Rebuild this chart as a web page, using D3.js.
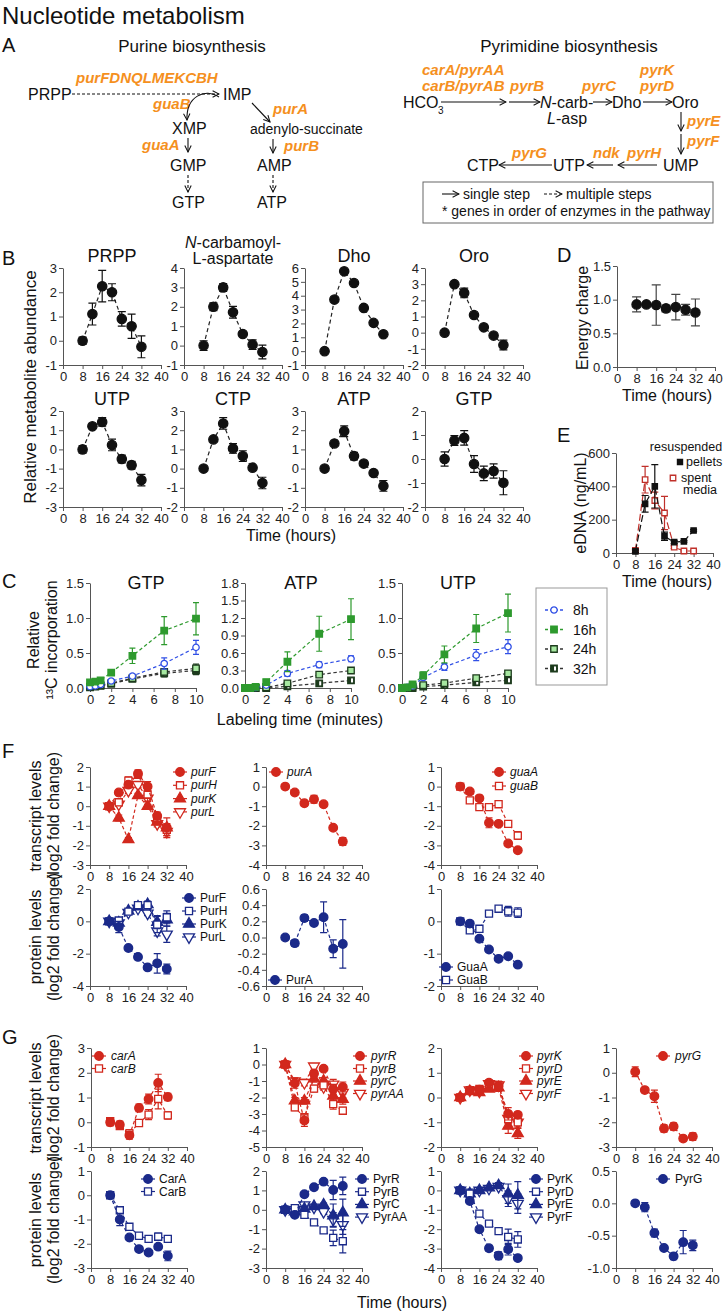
<!DOCTYPE html>
<html><head><meta charset="utf-8">
<script src="https://cdn.jsdelivr.net/npm/d3@7"></script>
<style>
body{margin:0;background:#fff;}
svg{display:block;font-family:"Liberation Sans",Arial,Helvetica,sans-serif;}
</style></head><body>
<svg id="chart" width="724" height="1313"></svg>
<script>
// ---------------- DATA ----------------
const hours = [8, 12, 16, 20, 24, 28, 32];
const hourTicks = [0, 8, 16, 24, 32, 40];
const labelMinutes = [0, 0.5, 1, 2, 4, 7, 10];
const minuteTicks = [0, 2, 4, 6, 8, 10];

// Panel B: relative metabolite abundance
const metaboliteTitles = ["PRPP", "N-carbamoyl-L-aspartate", "Dho", "Oro", "UTP", "CTP", "ATP", "GTP"];
const metPRPP = [0, 1.1, 2.25, 2.0, 0.9, 0.6, -0.25];
const metPRPPErr = [0.15, 0.45, 0.65, 0.35, 0.3, 0.5, 0.45];
const metNCA = [0, 2.0, 3.0, 1.72, 0.6, 0.05, -0.33];
const metNCAErr = [0.25, 0.2, 0.2, 0.3, 0.1, 0.25, 0.35];
const metDho = [0, 3.72, 5.76, 4.92, 3.12, 2.04, 1.22];
const metDhoErr = [0, 0, 0, 0, 0, 0, 0];
const metOro = [0, 3.0, 2.46, 1.09, 0.33, -0.18, -0.76];
const metOroErr = [0, 0, 0.3, 0, 0, 0, 0.3];
const metUTP = [0, 1.2, 1.43, 0.23, -0.5, -0.82, -1.6];
const metUTPErr = [0.2, 0.1, 0.22, 0.3, 0.2, 0.2, 0.3];
const metCTP = [0, 1.52, 2.35, 1.05, 0.65, 0.05, -0.75];
const metCTPErr = [0, 0, 0.3, 0.25, 0.28, 0, 0.3];
const metATP = [0, 1.31, 1.95, 0.65, 0.26, -0.23, -0.9];
const metATPErr = [0, 0, 0.28, 0.2, 0, 0, 0.28];
const metGTP = [0, 0.77, 0.88, -0.21, -0.6, -0.5, -0.99];
const metGTPErr = [0.3, 0.2, 0.3, 0.35, 0.3, 0.3, 0.5];
const ticksPRPP = [-1, 0, 1, 2, 3];
const ticksNCA = [-1, 0, 1, 2, 3, 4];
const ticksDho = [-1, 0, 1, 2, 3, 4, 5, 6];
const ticksOro = [-2, -1, 0, 1, 2, 3, 4];
const ticksUTP = [-3, -2, -1, 0, 1, 2];
const ticksCTP = [-2, -1, 0, 1, 2, 3];
const ticksATP = [-2, -1, 0, 1, 2, 3];
const ticksGTP = [-2, -1, 0, 1, 2];

// Panel D: energy charge
const energyCharge = [0.93, 0.93, 0.92, 0.87, 0.89, 0.85, 0.81];
const energyChargeErr = [0.11, 0.02, 0.3, 0.05, 0.19, 0.08, 0.2];
const energyTicks = [0, 0.5, 1.0, 1.5];

// Panel E: eDNA (ng/mL)
const eDNAPellets = [10, 295, 400, 100, 65, 70, 135];
const eDNAPelletsErr = [8, 50, 130, 25, 8, 5, 5];
const eDNASpent = [15, 440, 315, 240, 35, 12, 12];
const eDNASpentErr = [10, 80, 50, 100, 8, 5, 5];
const eDNATicks = [0, 200, 400, 600];

// Panel C: relative 13C incorporation
const cultureAges = ["8h", "16h", "24h", "32h"];
const gtp8h = [0.02, 0.03, 0.05, 0.10, 0.17, 0.35, 0.58];
const gtp8hErr = [0.01, 0.01, 0.01, 0.02, 0.03, 0.08, 0.1];
const gtp16h = [0.08, 0.09, 0.11, 0.22, 0.46, 0.82, 0.99];
const gtp16hErr = [0.02, 0.02, 0.02, 0.04, 0.11, 0.2, 0.23];
const gtp24h = [0.02, 0.03, 0.04, 0.07, 0.14, 0.23, 0.28];
const gtp24hErr = [0.01, 0.01, 0.01, 0.01, 0.02, 0.04, 0.06];
const gtp32h = [0.01, 0.02, 0.03, 0.06, 0.13, 0.21, 0.25];
const gtp32hErr = [0.01, 0.01, 0.01, 0.01, 0.02, 0.05, 0.06];
const atp8h = [0, 0, 0.01, 0.05, 0.25, 0.40, 0.50];
const atp8hErr = [0, 0, 0.01, 0.02, 0.05, 0.05, 0.05];
const atp16h = [0, 0, 0.02, 0.10, 0.45, 0.93, 1.18];
const atp16hErr = [0, 0, 0.01, 0.05, 0.17, 0.3, 0.35];
const atp24h = [0, 0, 0, 0.01, 0.08, 0.23, 0.30];
const atp24hErr = [0, 0, 0, 0.01, 0.02, 0.03, 0.04];
const atp32h = [0, 0, 0, 0, 0.03, 0.08, 0.13];
const atp32hErr = [0, 0, 0, 0, 0.01, 0.02, 0.02];
const utp8h = [0, 0.01, 0.03, 0.15, 0.30, 0.47, 0.59];
const utp8hErr = [0, 0, 0.01, 0.03, 0.05, 0.08, 0.1];
const utp16h = [0, 0.01, 0.05, 0.18, 0.48, 0.85, 1.07];
const utp16hErr = [0, 0.01, 0.02, 0.05, 0.12, 0.2, 0.27];
const utp24h = [0, 0, 0.02, 0.04, 0.07, 0.14, 0.21];
const utp24hErr = [0, 0, 0.01, 0.01, 0.02, 0.02, 0.03];
const utp32h = [0, 0, 0, 0.02, 0.04, 0.08, 0.11];
const utp32hErr = [0, 0, 0, 0.01, 0.01, 0.02, 0.02];
const ticksC_GTP = [0, 0.5, 1.0, 1.5];
const ticksC_ATP = [0, 0.3, 0.6, 0.9, 1.2, 1.5, 1.8];
const ticksC_UTP = [0, 0.5, 1.0, 1.5];

// Panel F: purine genes (log2 fold change)
const purF = [0, 0.7, 1.1, 1.65, 1.0, -0.5, -1.1];
const purFErr = [0.1, 0.15, 0.15, 0.2, 0.25, 0.2, 0.5];
const purH = [0, 0.2, 1.3, 1.6, 0.6, -0.6, -1.2];
const purHErr = [0.1, 0.15, 0.2, 0.15, 0.2, 0.2, 0.3];
const purK = [0, -0.6, -1.7, 0.55, 0.0, -0.8, -1.1];
const purKErr = [0.05, 0.15, 0.1, 0.1, 0.1, 0.15, 0.2];
const purL = [0, 0.1, 0.8, 1.1, 0.4, -0.9, -1.3];
const purLErr = [0.05, 0.1, 0.15, 0.15, 0.15, 0.15, 0.2];
const purA = [0, -0.3, -0.85, -0.65, -0.9, -2.1, -2.8];
const purAErr = [0.05, 0.1, 0.15, 0.2, 0.1, 0.1, 0.2];
const guaA = [0, -0.25, -0.6, -1.85, -1.9, -2.9, -3.25];
const guaAErr = [0.05, 0.1, 0.15, 0.25, 0.1, 0.1, 0.1];
const guaB = [0, -0.7, -1.05, -1.05, -0.9, -1.9, -2.5];
const guaBErr = [0.05, 0.1, 0.1, 0.15, 0.15, 0.15, 0.2];
const protPurF = [0, -0.35, -1.65, -2.2, -2.85, -2.6, -2.95];
const protPurFErr = [0.05, 0.35, 0.1, 0.1, 0.15, 0.6, 0.3];
const protPurH = [0, 0.05, 0.6, 1.0, 1.0, -0.2, 0.25];
const protPurHErr = [0.05, 0.1, 0.1, 0.15, 0.25, 0.5, 0.4];
const protPurK = [0, -0.1, 0.65, 0.9, 1.05, -0.05, 0.1];
const protPurKErr = [0.05, 0.1, 0.1, 0.1, 0.1, 0.4, 0.4];
const protPurL = [0, -0.1, 0.55, 0.8, 0.5, -0.6, -0.8];
const protPurLErr = [0.05, 0.1, 0.1, 0.1, 0.15, 0.3, 0.5];
const protPurA = [0, -0.07, 0.24, 0.18, 0.25, -0.14, -0.08];
const protPurAErr = [0.01, 0.04, 0.04, 0.01, 0.19, 0.11, 0.3];
const protGuaA = [0, -0.07, -0.54, -0.87, -1.16, -1.08, -1.34];
const protGuaAErr = [0.03, 0.04, 0.05, 0.05, 0.05, 0.05, 0.05];
const protGuaB = [0, -0.28, -0.23, 0.24, 0.39, 0.31, 0.27];
const protGuaBErr = [0.03, 0.08, 0.08, 0.05, 0.05, 0.15, 0.15];

// Panel G: pyrimidine genes (log2 fold change)
const carA = [0, -0.1, -0.53, 0.58, 0.94, 1.59, 1.02];
const carAErr = [0.15, 0.15, 0.15, 0.15, 0.2, 0.35, 0.15];
const carB = [0.04, -0.15, -0.45, -0.03, 0.31, 0.94, 0.28];
const carBErr = [0.1, 0.1, 0.15, 0.1, 0.2, 0.4, 0.15];
const pyrR = [0, -1.14, -3.4, -0.54, -0.26, -1.5, -1.36];
const pyrRErr = [0.1, 0.3, 0.35, 0.2, 0.15, 0.3, 0.3];
const pyrB = [0, -2.6, -3.2, -1.46, -1.26, -2.4, -2.8];
const pyrBErr = [0.1, 0.2, 0.2, 0.2, 0.2, 0.3, 0.2];
const pyrC = [0, -2.2, -2.2, -0.86, -1.0, -1.9, -2.1];
const pyrCErr = [0.1, 0.2, 0.2, 0.2, 0.2, 0.3, 0.3];
const pyrAA = [0, -1.0, -1.1, -0.1, -1.36, -1.2, -1.7];
const pyrAAErr = [0.1, 0.2, 0.2, 0.1, 0.2, 0.3, 0.3];
const pyrK = [0, 0.28, 0.32, 0.6, 0.46, -0.66, -0.7];
const pyrKErr = [0.05, 0.1, 0.1, 0.1, 0.1, 0.25, 0.1];
const pyrD = [0, 0.3, 0.35, 0.55, 0.5, -0.87, -1.0];
const pyrDErr = [0.05, 0.1, 0.1, 0.1, 0.15, 0.2, 0.2];
const pyrE = [0, 0.25, 0.2, 0.35, 0.4, -1.15, -1.45];
const pyrEErr = [0.05, 0.1, 0.1, 0.1, 0.15, 0.3, 0.2];
const pyrF = [0, 0.3, 0.25, 0.55, 0.5, -0.85, -1.0];
const pyrFErr = [0.05, 0.1, 0.1, 0.1, 0.15, 0.2, 0.25];
const pyrG = [0.04, -0.7, -0.95, -2.25, -2.17, -2.66, -2.58];
const pyrGErr = [0.2, 0.1, 0.25, 0.15, 0.15, 0.1, 0.15];
const protCarA = [0, -1.0, -1.74, -2.22, -2.36, -2.12, -2.5];
const protCarAErr = [0.05, 0.25, 0.05, 0.05, 0.05, 0.1, 0.2];
const protCarB = [0, -0.62, -1.3, -1.67, -1.8, -1.71, -1.8];
const protCarBErr = [0.05, 0.1, 0.05, 0.05, 0.05, 0.15, 0.1];
const protPyrR = [0, -0.26, 0.8, 1.16, 1.45, 1.02, 1.23];
const protPyrRErr = [0.05, 0.1, 0.1, 0.1, 0.1, 0.5, 0.45];
const protPyrB = [0, 0.08, -0.26, -0.65, -1.06, -1.45, -1.62];
const protPyrBErr = [0.05, 0.1, 0.1, 0.1, 0.1, 0.4, 0.6];
const protPyrC = [0, -0.1, 0.05, 0.17, 0.25, -0.3, -0.15];
const protPyrCErr = [0.05, 0.1, 0.1, 0.1, 0.1, 0.6, 0.7];
const protPyrAA = [0, 0, 0.25, 0.13, -0.1, -0.5, -0.77];
const protPyrAAErr = [0.05, 0.1, 0.1, 0.1, 0.1, 0.35, 0.5];
const protPyrK = [0, -0.55, -2.0, -2.98, -3.37, -3.03, -3.49];
const protPyrKErr = [0.05, 0.1, 0.1, 0.15, 0.2, 0.3, 0.1];
const protPyrD = [0, -0.17, -1.2, -1.71, -2.1, -2.4, -2.53];
const protPyrDErr = [0.05, 0.1, 0.1, 0.1, 0.1, 0.4, 0.4];
const protPyrE = [0, -0.17, 0, 0.14, 0.25, -0.17, -0.25];
const protPyrEErr = [0.05, 0.1, 0.1, 0.1, 0.15, 0.5, 0.7];
const protPyrF = [0, -0.1, 0, 0.1, 0.2, -0.43, -0.68];
const protPyrFErr = [0.05, 0.1, 0.1, 0.1, 0.1, 0.4, 0.5];
const protPyrG = [0, -0.06, -0.46, -0.69, -0.82, -0.6, -0.65];
const protPyrGErr = [0.03, 0.07, 0.06, 0.03, 0.05, 0.18, 0.08];

// ---------------- DRAWING ----------------
const FONT = '"Liberation Sans", Arial, Helvetica, sans-serif';
const RED = "#d2281d", BLUE = "#1b2a8a", ORANGE = "#f5901e";
const GREEN = "#2e9a2e", LGREEN = "#a6e8a0", DGREEN = "#1d3b1d", CBLUE = "#3150e6";
const LEGFONT = 12;
const TICKFONT = 13;
const svg = d3.select("#chart");
const defs = svg.append("defs");
defs.append("marker").attr("id", "arr").attr("viewBox", "0 0 10 10").attr("refX", 9).attr("refY", 5)
  .attr("markerWidth", 8).attr("markerHeight", 8).attr("markerUnits", "userSpaceOnUse").attr("orient", "auto")
  .append("path").attr("d", "M1,1 L9,5 L1,9").attr("fill", "none").attr("stroke", "#111").attr("stroke-width", 1.3);

function txt(x, y, s, o = {}) {
  const t = svg.append("text").attr("x", x).attr("y", y).text(s)
    .attr("font-size", o.size || 14).attr("text-anchor", o.anchor || "start").attr("fill", o.color || "#111");
  if (o.bold) t.attr("font-weight", "bold");
  if (o.italic) t.attr("font-style", "italic");
  return t;
}
function gene(x, y, s) { return txt(x, y, s, {size: 15, bold: true, italic: true, color: ORANGE}); }
function arrow(x1, y1, x2, y2, dashed) {
  const l = svg.append("line").attr("x1", x1).attr("y1", y1).attr("x2", x2).attr("y2", y2)
    .attr("stroke", "#111").attr("stroke-width", 1.1).attr("marker-end", "url(#arr)");
  if (dashed) l.attr("stroke-dasharray", "3,2");
}
function vlabel(x, y, s, size) {
  return svg.append("text").attr("transform", `translate(${x},${y}) rotate(-90)`)
    .attr("text-anchor", "middle").attr("dominant-baseline", "central").attr("font-size", size || 16).attr("fill", "#111").text(s);
}
const fmt = n => d => d.toFixed(n);

function makePlot(x0, w, yTop, yBot, xDom, yDom, xTicks, yTicks, yFmt) {
  const x = d3.scaleLinear().domain(xDom).range([x0, x0 + w]);
  const y = d3.scaleLinear().domain(yDom).range([yBot, yTop]);
  const g = svg.append("g");
  const ya = g.append("g").attr("transform", `translate(${x0},0)`)
    .call(d3.axisLeft(y).tickValues(yTicks).tickFormat(yFmt || fmt(0)).tickSize(4).tickSizeOuter(0).tickPadding(2));
  const xa = g.append("g").attr("transform", `translate(0,${yBot})`)
    .call(d3.axisBottom(x).tickValues(xTicks).tickFormat(d => d).tickSize(4).tickSizeOuter(0).tickPadding(3));
  [ya, xa].forEach(a => {
    a.attr("font-family", FONT);
    a.selectAll("text").attr("font-size", TICKFONT).attr("fill", "#222");
    a.selectAll("path,line").attr("stroke", "#555");
  });
  return {x, y, g};
}

const SYM = {circle: d3.symbolCircle, square: d3.symbolSquare, tri: d3.symbolTriangle, triDown: d3.symbolTriangle};
function marker(g, x, y, st) {
  const size = st.size || 60;
  g.append("path").attr("d", d3.symbol().type(SYM[st.shape]).size(size)())
    .attr("transform", `translate(${x},${y})` + (st.shape === "triDown" ? " rotate(180)" : ""))
    .attr("fill", st.open ? "#fff" : (st.fill || st.color)).attr("stroke", st.stroke || st.color).attr("stroke-width", st.sw || 1.3);
  if (st.half) {
    const s = Math.sqrt(size);
    g.append("rect").attr("x", x).attr("y", y - s / 2 + 1.2).attr("width", s / 2 - 1.2).attr("height", s - 2.4).attr("fill", "#fff");
  }
}
function series(p, xs, vals, errs, st) {
  const pts = xs.map((xv, i) => [p.x(xv), p.y(vals[i])]);
  if (!st.noLine) {
    p.g.append("path").attr("d", d3.line()(pts)).attr("fill", "none").attr("stroke", st.line || st.color)
      .attr("stroke-width", st.lw || 1.2).attr("stroke-dasharray", st.dash || "3.5,2.5");
  }
  if (errs) {
    const cw = st.cap || 3.5;
    xs.forEach((xv, i) => {
      if (!errs[i]) return;
      const cx = p.x(xv), y1 = p.y(vals[i] + errs[i]), y2 = p.y(vals[i] - errs[i]);
      const col = st.errColor || st.stroke || st.color;
      p.g.append("path").attr("d", `M${cx},${y1}V${y2}M${cx - cw},${y1}H${cx + cw}M${cx - cw},${y2}H${cx + cw}`)
        .attr("stroke", col).attr("stroke-width", 1.2).attr("fill", "none");
    });
  }
  pts.forEach(d => marker(p.g, d[0], d[1], st));
}
function legend(mx, tx, y0, dy, entries, italic) {
  entries.forEach((e, i) => {
    const y = y0 + i * dy;
    svg.append("line").attr("x1", mx - 7).attr("x2", mx + 7).attr("y1", y).attr("y2", y)
      .attr("stroke", e[0].color).attr("stroke-width", 1.2);
    marker(svg, mx, y, e[0]);
    txt(tx, y, e[1], {size: LEGFONT, italic: italic}).attr("dominant-baseline", "central");
  });
}

// ---------- Panel A ----------
txt(2, 24, "Nucleotide metabolism", {size: 24});
txt(2, 52, "A", {size: 20});
txt(192, 52, "Purine biosynthesis", {size: 17, anchor: "middle"});
txt(569, 52, "Pyrimidine biosynthesis", {size: 17, anchor: "middle"});
// purine
txt(28, 100, "PRPP", {size: 16});
arrow(72, 94, 219, 94, true);
gene(76, 83, "purFDNQLMEKCBH");
txt(223, 100, "IMP", {size: 16});
gene(153, 109, "guaB");
svg.append("path").attr("d", "M219,97 C205,88 186,96 187,120").attr("fill", "none")
  .attr("stroke", "#111").attr("stroke-width", 1.1).attr("marker-end", "url(#arr)");
txt(172, 134, "XMP", {size: 16});
arrow(252, 103, 270, 122, false);
gene(273, 114, "purA");
txt(250, 134, "adenylo-succinate", {size: 14});
gene(142, 150, "guaA");
arrow(188, 138, 188, 152, false);
gene(284, 151, "purB");
arrow(273, 139, 273, 153, false);
txt(170, 171, "GMP", {size: 16});
txt(257, 171, "AMP", {size: 16});
arrow(188, 175, 188, 192, true);
arrow(273, 175, 273, 192, true);
txt(172, 208, "GTP", {size: 16});
txt(257, 208, "ATP", {size: 16});
// pyrimidine
gene(422, 75, "carA/pyrAA");
gene(422, 91, "carB/pyrAB");
gene(510, 91, "pyrB");
txt(403, 108, "HCO", {size: 16});
txt(438, 114, "3", {size: 10});
arrow(441, 102, 506, 102, false);
arrow(509, 102, 540, 102, false);
const nc = txt(540, 108, "", {size: 16});
nc.append("tspan").attr("font-style", "italic").text("N");
nc.append("tspan").text("-carb-");
const la = txt(547, 124, "", {size: 16});
la.append("tspan").attr("font-style", "italic").text("L");
la.append("tspan").text("-asp");
arrow(593, 102, 612, 102, false);
gene(582, 91, "pyrC");
txt(612, 108, "Dho", {size: 16});
arrow(643, 102, 672, 102, false);
gene(640, 75, "pyrK");
gene(640, 91, "pyrD");
txt(672, 108, "Oro", {size: 16});
arrow(681, 112, 681, 131, false);
arrow(681, 134, 681, 154, false);
gene(687, 126, "pyrE");
gene(687, 146, "pyrF");
txt(663, 171, "UMP", {size: 16});
arrow(657, 165, 618, 165, false);
gene(627, 158, "pyrH");
arrow(613, 165, 587, 165, false);
gene(593, 158, "ndk");
txt(553, 171, "UTP", {size: 16});
arrow(552, 165, 499, 165, false);
gene(512, 158, "pyrG");
txt(467, 171, "CTP", {size: 16});
svg.append("rect").attr("x", 423).attr("y", 182).attr("width", 290).attr("height", 41)
  .attr("fill", "none").attr("stroke", "#666").attr("stroke-width", 1);
arrow(442, 194, 459, 194, false);
txt(463, 199, "single step", {size: 14});
arrow(544, 194, 562, 194, true);
txt(566, 199, "multiple steps", {size: 14});
txt(442, 216, "* genes in order of enzymes in the pathway", {size: 14});

// ---------- Panel B ----------
txt(2, 265, "B", {size: 20});
const bX0 = [63, 184, 305, 425];
const bRows = [[268, 365], [411, 507]];
const bVals = [metPRPP, metNCA, metDho, metOro, metUTP, metCTP, metATP, metGTP];
const bErrs = [metPRPPErr, metNCAErr, metDhoErr, metOroErr, metUTPErr, metCTPErr, metATPErr, metGTPErr];
const bTicks = [ticksPRPP, ticksNCA, ticksDho, ticksOro, ticksUTP, ticksCTP, ticksATP, ticksGTP];
bVals.forEach((vals, i) => {
  const col = i % 4, row = Math.floor(i / 4);
  const t = bTicks[i];
  const p = makePlot(bX0[col], 98, bRows[row][0], bRows[row][1], [0, 40], [t[0], t[t.length - 1]], hourTicks, t);
  series(p, hours, vals, bErrs[i], {shape: "circle", color: "#111", size: 68, line: "#222", dash: "4,3", cap: 4});
  const cx = bX0[col] + 49;
  if (i === 1) {
    const t1 = txt(cx, 248, "", {size: 16, anchor: "middle"});
    t1.append("tspan").attr("font-style", "italic").text("N");
    t1.append("tspan").text("-carbamoyl-");
    txt(cx, 264, "L-aspartate", {size: 16, anchor: "middle"});
  } else {
    txt(cx, row === 0 ? 262 : 405, metaboliteTitles[i], {size: 18, anchor: "middle"});
  }
});
vlabel(30, 387, "Relative metabolite abundance", 17);
txt(291, 541, "Time (hours)", {size: 16, anchor: "middle"});

// ---------- Panel D ----------
txt(557, 262, "D", {size: 20});
{
  const p = makePlot(617, 98, 266, 367, [0, 40], [0, 1.5], hourTicks, energyTicks, fmt(1));
  series(p, hours, energyCharge, energyChargeErr, {shape: "circle", color: "#111", size: 68, noLine: true, cap: 4.5, errColor: "#444"});
  vlabel(582, 318, "Energy charge", 16);
  txt(667, 401, "Time (hours)", {size: 16, anchor: "middle"});
}

// ---------- Panel E ----------
txt(557, 442, "E", {size: 20});
{
  const p = makePlot(616, 97, 453, 553, [0, 40], [0, 600], hourTicks, eDNATicks, fmt(0));
  series(p, hours, eDNASpent, eDNASpentErr, {shape: "square", color: "#c0302a", open: true, size: 30, dash: "7,3", cap: 3.5});
  series(p, hours, eDNAPellets, eDNAPelletsErr, {shape: "square", color: "#111", size: 28, dash: "7,3", cap: 3.5});
  vlabel(580, 503, "eDNA (ng/mL)", 16);
  txt(667, 587, "Time (hours)", {size: 16, anchor: "middle"});
  txt(686, 451, "resuspended", {size: 12.5, anchor: "middle"});
  marker(svg, 680, 462, {shape: "square", color: "#111", size: 26});
  txt(686, 462, "pellets", {size: 12.5}).attr("dominant-baseline", "central");
  marker(svg, 673, 478, {shape: "square", color: "#c0302a", open: true, size: 30});
  txt(681, 478, "spent", {size: 12.5}).attr("dominant-baseline", "central");
  txt(683, 490, "media", {size: 12.5}).attr("dominant-baseline", "central");
}

// ---------- Panel C ----------
txt(2, 588, "C", {size: 20});
const cX0 = [90, 245, 402];
const cTitles = ["GTP", "ATP", "UTP"];
const cTicks = [ticksC_GTP, ticksC_ATP, ticksC_UTP];
const cData = [
  [[gtp32h, gtp32hErr], [gtp24h, gtp24hErr], [gtp8h, gtp8hErr], [gtp16h, gtp16hErr]],
  [[atp32h, atp32hErr], [atp24h, atp24hErr], [atp8h, atp8hErr], [atp16h, atp16hErr]],
  [[utp32h, utp32hErr], [utp24h, utp24hErr], [utp8h, utp8hErr], [utp16h, utp16hErr]]
];
const cStyles = [
  {shape: "square", color: DGREEN, size: 42, line: "#333", half: true, cap: 3},
  {shape: "square", color: DGREEN, fill: LGREEN, size: 42, line: "#333", cap: 3},
  {shape: "circle", color: CBLUE, open: true, size: 32, cap: 3},
  {shape: "square", color: GREEN, size: 42, cap: 3}
];
cX0.forEach((x0, k) => {
  const t = cTicks[k];
  const p = makePlot(x0, 106, 583, 688, [0, 10], [0, t[t.length - 1]], minuteTicks, t, fmt(1));
  cData[k].forEach((d, j) => series(p, labelMinutes, d[0], d[1], cStyles[j]));
  txt(x0 + 56, 589, cTitles[k], {size: 18, anchor: "middle"});
});
vlabel(33, 640, "Relative", 16);
vlabel(51, 640, "\u00B9\u00B3C incorporation", 16);
txt(300, 725, "Labeling time (minutes)", {size: 16, anchor: "middle"});
svg.append("rect").attr("x", 536).attr("y", 588).attr("width", 71).attr("height", 97)
  .attr("fill", "none").attr("stroke", "#999").attr("stroke-width", 1);
[cStyles[2], cStyles[3], cStyles[1], cStyles[0]].forEach((st, i) => {
  const y = 610 + i * 19.5;
  svg.append("line").attr("x1", 545).attr("x2", 563).attr("y1", y).attr("y2", y)
    .attr("stroke", st.line || st.color).attr("stroke-width", 1.3).attr("stroke-dasharray", "3,2");
  marker(svg, 554, y, st);
  txt(573, y, cultureAges[i], {size: 14}).attr("dominant-baseline", "central");
});

// ---------- Panel F ----------
txt(2, 758, "F", {size: 20});
const redF = {shape: "circle", color: RED, size: 58};
const redH = {shape: "square", color: RED, open: true, size: 50};
const redK = {shape: "tri", color: RED, size: 52};
const redL = {shape: "triDown", color: RED, open: true, size: 52};
const bluF = {shape: "circle", color: BLUE, size: 58};
const bluH = {shape: "square", color: BLUE, open: true, size: 50};
const bluK = {shape: "tri", color: BLUE, size: 52};
const bluL = {shape: "triDown", color: BLUE, open: true, size: 52};
const fX0 = [90, 266, 441];
{
  const p1 = makePlot(fX0[0], 96, 767, 865, [0, 40], [-3, 2], hourTicks, [-3, -2, -1, 0, 1, 2]);
  series(p1, hours, purL, purLErr, redL); series(p1, hours, purK, purKErr, redK);
  series(p1, hours, purH, purHErr, redH); series(p1, hours, purF, purFErr, redF);
  legend(180, 191, 772, 13.3, [[redF, "purF"], [redH, "purH"], [redK, "purK"], [redL, "purL"]], true);
  const p2 = makePlot(fX0[1], 96, 767, 865, [0, 40], [-4, 1], hourTicks, [-4, -3, -2, -1, 0, 1]);
  series(p2, hours, purA, purAErr, redF);
  legend(276, 287, 772, 13, [[redF, "purA"]], true);
  const p3 = makePlot(fX0[2], 96, 767, 865, [0, 40], [-4, 1], hourTicks, [-4, -3, -2, -1, 0, 1]);
  series(p3, hours, guaB, guaBErr, redH); series(p3, hours, guaA, guaAErr, redF);
  legend(499, 510, 772, 14, [[redF, "guaA"], [redH, "guaB"]], true);

  const q1 = makePlot(fX0[0], 96, 889, 986, [0, 40], [-4, 2], hourTicks, [-4, -2, 0, 2]);
  series(q1, hours, protPurL, protPurLErr, bluL); series(q1, hours, protPurK, protPurKErr, bluK);
  series(q1, hours, protPurH, protPurHErr, bluH); series(q1, hours, protPurF, protPurFErr, bluF);
  legend(189, 200, 898, 13, [[bluF, "PurF"], [bluH, "PurH"], [bluK, "PurK"], [bluL, "PurL"]], false);
  const q2 = makePlot(fX0[1], 96, 889, 986, [0, 40], [-0.6, 0.6], hourTicks, [-0.6, -0.4, -0.2, 0, 0.2, 0.4, 0.6], fmt(1));
  series(q2, hours, protPurA, protPurAErr, bluF);
  legend(275, 286, 980, 13, [[bluF, "PurA"]], false);
  const q3 = makePlot(fX0[2], 96, 889, 986, [0, 40], [-2, 1], hourTicks, [-2, -1, 0, 1]);
  series(q3, hours, protGuaB, protGuaBErr, bluH); series(q3, hours, protGuaA, protGuaAErr, bluF);
  legend(446, 457, 967, 13, [[bluF, "GuaA"], [bluH, "GuaB"]], false);
}
vlabel(35, 816, "transcript levels", 16);
vlabel(53, 816, "(log2 fold change)", 16);
vlabel(35, 937, "protein levels", 16);
vlabel(53, 937, "(log2 fold change)", 16);

// ---------- Panel G ----------
txt(2, 1044, "G", {size: 20});
const gX0 = [91, 266, 441, 616];
{
  const p1 = makePlot(gX0[0], 96, 1048, 1147, [0, 40], [-1, 3], hourTicks, [-1, 0, 1, 2, 3]);
  series(p1, hours, carB, carBErr, redH); series(p1, hours, carA, carAErr, redF);
  legend(99, 111, 1056, 12.5, [[redF, "carA"], [redH, "carB"]], true);
  const p2 = makePlot(gX0[1], 96, 1048, 1147, [0, 40], [-5, 1], hourTicks, [-5, -4, -3, -2, -1, 0, 1]);
  series(p2, hours, pyrAA, pyrAAErr, redL); series(p2, hours, pyrC, pyrCErr, redK);
  series(p2, hours, pyrB, pyrBErr, redH); series(p2, hours, pyrR, pyrRErr, redF);
  legend(360, 371, 1056, 12.5, [[redF, "pyrR"], [redH, "pyrB"], [redK, "pyrC"], [redL, "pyrAA"]], true);
  const p3 = makePlot(gX0[2], 96, 1048, 1147, [0, 40], [-2, 2], hourTicks, [-2, -1, 0, 1, 2]);
  series(p3, hours, pyrF, pyrFErr, redL); series(p3, hours, pyrE, pyrEErr, redK);
  series(p3, hours, pyrD, pyrDErr, redH); series(p3, hours, pyrK, pyrKErr, redF);
  legend(526, 537, 1056, 12.5, [[redF, "pyrK"], [redH, "pyrD"], [redK, "pyrE"], [redL, "pyrF"]], true);
  const p4 = makePlot(gX0[3], 96, 1048, 1147, [0, 40], [-3, 1], hourTicks, [-3, -2, -1, 0, 1]);
  series(p4, hours, pyrG, pyrGErr, redF);
  legend(663, 675, 1056, 12, [[redF, "pyrG"]], true);

  const q1 = makePlot(gX0[0], 96, 1171, 1268, [0, 40], [-3, 1], hourTicks, [-3, -2, -1, 0, 1]);
  series(q1, hours, protCarB, protCarBErr, bluH); series(q1, hours, protCarA, protCarAErr, bluF);
  legend(148, 159, 1179, 12.5, [[bluF, "CarA"], [bluH, "CarB"]], false);
  const q2 = makePlot(gX0[1], 96, 1171, 1268, [0, 40], [-3, 2], hourTicks, [-3, -2, -1, 0, 1, 2]);
  series(q2, hours, protPyrAA, protPyrAAErr, bluL); series(q2, hours, protPyrC, protPyrCErr, bluK);
  series(q2, hours, protPyrB, protPyrBErr, bluH); series(q2, hours, protPyrR, protPyrRErr, bluF);
  legend(362, 373, 1179, 12.7, [[bluF, "PyrR"], [bluH, "PyrB"], [bluK, "PyrC"], [bluL, "PyrAA"]], false);
  const q3 = makePlot(gX0[2], 96, 1171, 1268, [0, 40], [-4, 1], hourTicks, [-4, -3, -2, -1, 0, 1]);
  series(q3, hours, protPyrF, protPyrFErr, bluL); series(q3, hours, protPyrE, protPyrEErr, bluK);
  series(q3, hours, protPyrD, protPyrDErr, bluH); series(q3, hours, protPyrK, protPyrKErr, bluF);
  legend(536, 547, 1179, 12.7, [[bluF, "PyrK"], [bluH, "PyrD"], [bluK, "PyrE"], [bluL, "PyrF"]], false);
  const q4 = makePlot(gX0[3], 96, 1171, 1268, [0, 40], [-1, 0.5], hourTicks, [-1, -0.5, 0, 0.5], fmt(1));
  series(q4, hours, protPyrG, protPyrGErr, bluF);
  legend(663, 675, 1179, 12, [[bluF, "PyrG"]], false);
}
vlabel(35, 1098, "transcript levels", 16);
vlabel(53, 1098, "(log2 fold change)", 16);
vlabel(35, 1220, "protein levels", 16);
vlabel(53, 1220, "(log2 fold change)", 16);
txt(402, 1308, "Time (hours)", {size: 16, anchor: "middle"});
</script>
</body></html>
